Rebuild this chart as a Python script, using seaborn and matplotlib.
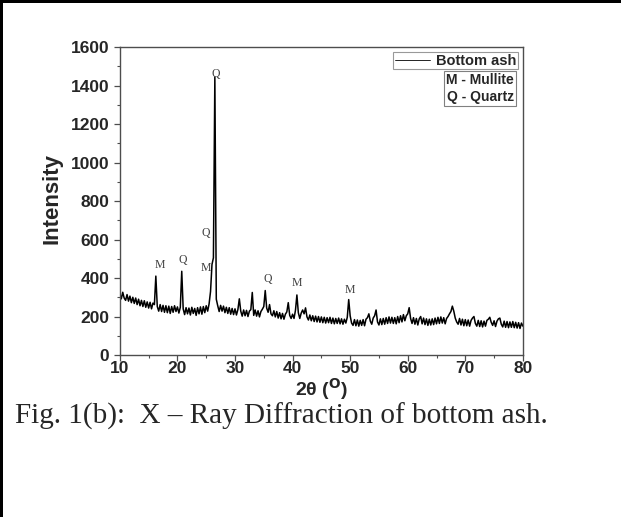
import numpy as np
import pandas as pd
import seaborn as sns
import matplotlib.pyplot as plt
import matplotlib.patches as patches
from matplotlib.ticker import MultipleLocator

# scan grid (2-theta, degrees), 0.25 deg step
two_theta = np.arange(10, 80.001, 0.25)

# intensity, one list per 10 degree window
counts_10_20 = [318, 292, 326, 296, 284, 314, 280, 306, 272, 300,
                268, 296, 262, 290, 256, 284, 252, 282, 248, 276,
                244, 274, 240, 270, 262, 410, 252, 228, 262, 226,
                258, 222, 256, 220, 254, 216, 252, 222, 256, 226]
counts_20_30 = [250, 218, 248, 435, 240, 210, 246, 214, 244, 208,
                248, 216, 242, 206, 246, 214, 250, 212, 252, 220,
                256, 228, 266, 330, 470, 505, 1445, 290, 256, 226,
                258, 228, 254, 220, 248, 216, 246, 212, 242, 210]
counts_30_40 = [240, 208, 236, 292, 228, 202, 234, 204, 232, 200,
                228, 236, 325, 206, 234, 202, 230, 198, 226, 238,
                252, 335, 244, 222, 262, 214, 204, 230, 198, 226,
                192, 220, 188, 216, 186, 212, 224, 272, 206, 190]
counts_40_50 = [212, 190, 232, 312, 220, 190, 218, 234, 214, 245,
                198, 182, 208, 178, 204, 174, 202, 172, 200, 170,
                198, 168, 196, 166, 194, 168, 196, 164, 192, 162,
                190, 164, 192, 162, 188, 160, 186, 166, 196, 288]
counts_50_60 = [204, 166, 154, 184, 152, 182, 150, 180, 154, 184,
                152, 186, 194, 214, 176, 160, 192, 204, 234, 172,
                156, 188, 158, 190, 160, 194, 164, 198, 166, 196,
                164, 194, 162, 200, 168, 204, 172, 210, 178, 204]
counts_60_70 = [214, 246, 190, 164, 194, 160, 190, 156, 188, 200,
                162, 192, 158, 188, 154, 186, 156, 188, 158, 192,
                162, 196, 164, 198, 166, 194, 162, 190, 200, 214,
                226, 254, 228, 192, 172, 160, 190, 156, 186, 152]
counts_70_80 = [184, 152, 182, 150, 180, 192, 200, 164, 150, 180,
                148, 178, 146, 176, 150, 180, 186, 196, 170, 154,
                178, 148, 176, 188, 192, 160, 146, 176, 144, 174,
                142, 172, 144, 174, 142, 170, 140, 168, 138, 166, 150]

intensity = (counts_10_20 + counts_20_30 + counts_30_40 + counts_40_50
             + counts_50_60 + counts_60_70 + counts_70_80)

df = pd.DataFrame({'two_theta': two_theta, 'intensity': intensity})

# phase labels above the peaks
peak_labels = ['M', 'Q', 'M', 'Q', 'Q', 'Q', 'M', 'M']
peak_x = [16.9, 20.9, 24.9, 24.9, 26.7, 35.7, 40.7, 50.0]
peak_y = [468, 494, 454, 634, 1460, 395, 374, 338]

sns.set_style('ticks')
plt.rcParams['font.family'] = ['Liberation Sans', 'DejaVu Sans']

fig = plt.figure(figsize=(6.21, 5.17), dpi=100)
ax = fig.add_axes([0.193, 0.3133, 0.649, 0.5957])

sns.lineplot(data=df, x='two_theta', y='intensity', ax=ax, color='black',
             linewidth=1.1, estimator=None, sort=False, label='Bottom ash')

ax.set_xlim(10, 80)
ax.set_ylim(0, 1600)
ax.xaxis.set_major_locator(MultipleLocator(10))
ax.xaxis.set_minor_locator(MultipleLocator(5))
ax.yaxis.set_major_locator(MultipleLocator(200))
ax.yaxis.set_minor_locator(MultipleLocator(100))
ax.tick_params(which='major', direction='out', length=4, width=0.9,
               labelsize=12.5, color='0.3')
ax.tick_params(axis='x', which='major', pad=0.5)
ax.tick_params(which='minor', direction='out', length=2.5, width=0.8, color='0.3')
for lab in ax.get_xticklabels() + ax.get_yticklabels():
    lab.set_fontweight('bold')
for sp in ax.spines.values():
    sp.set_visible(True)
    sp.set_color('0.3')
    sp.set_linewidth(1.0)

ax.set_xlabel('')
ax.set_ylabel('')
fig.text(322 / 621, 1 - 396 / 517, '2θ ($^{\\mathbf{O}}$)', fontsize=14,
         fontweight='bold', ha='center', va='baseline')
fig.text(52 / 621, 1 - 198 / 517, 'Intensity', fontsize=16, fontweight='bold',
         rotation=90, ha='center', va='center')

for lab, x, y in zip(peak_labels, peak_x, peak_y):
    ax.text(x, y, lab, ha='center', va='center', fontsize=8.5,
            family='Liberation Serif', color='0.25')

leg = ax.legend(loc='upper right', bbox_to_anchor=(0.988, 0.984), borderaxespad=0,
                fancybox=False, edgecolor='0.5', handlelength=2.4,
                handletextpad=0.4, borderpad=0.12, prop={'weight': 'bold', 'size': 10.5})
leg.get_frame().set_linewidth(0.8)
leg.legend_handles[0].set_linewidth(0.6)

ax.text(0.978, 0.916, 'M - Mullite\nQ - Quartz', transform=ax.transAxes,
        ha='right', va='top', fontsize=10, fontweight='bold', linespacing=1.3,
        bbox=dict(boxstyle='square,pad=0.15', fc='white', ec='0.5', lw=0.8))

fig.text(15 / 621, 1 - 416 / 517, 'Fig. 1(b):  X – Ray Diffraction of bottom ash.',
         family='Liberation Serif', fontsize=21, ha='left', va='center')

# page border (top and left edges)
fig.add_artist(patches.Rectangle((0, 1 - 3 / 517), 1, 3 / 517, transform=fig.transFigure,
                                 color='black', lw=0))
fig.add_artist(patches.Rectangle((0, 0), 3 / 621, 1, transform=fig.transFigure,
                                 color='black', lw=0))

fig.savefig('out.png', dpi=100)
